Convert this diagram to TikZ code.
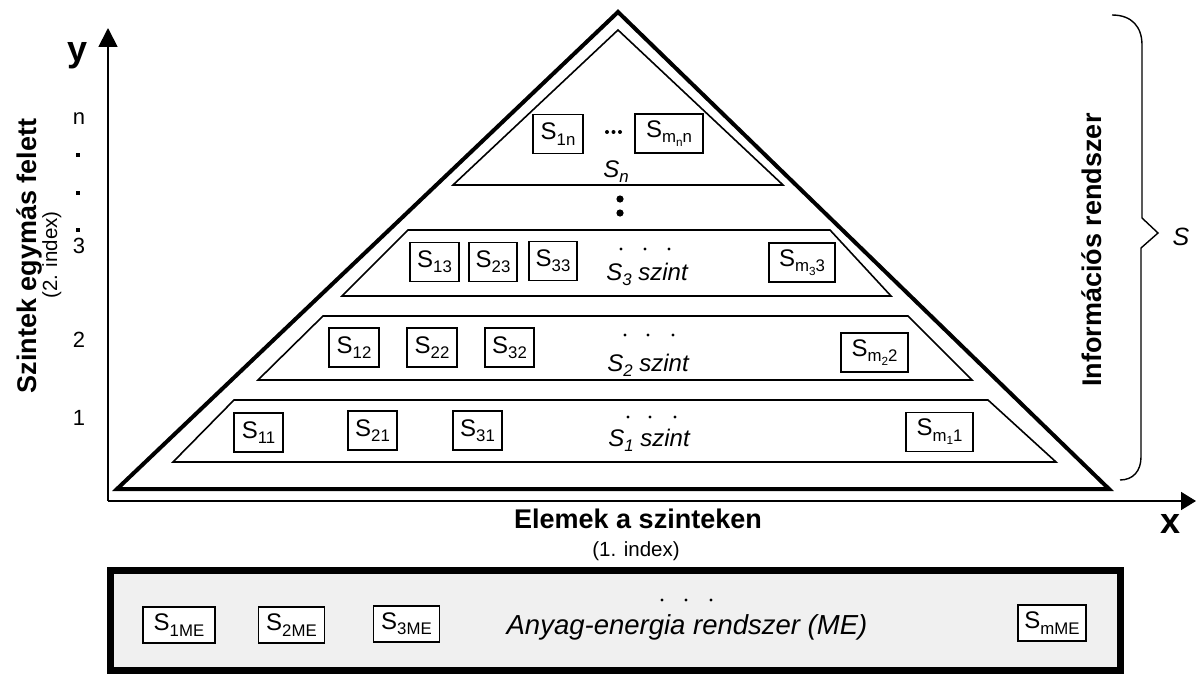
\documentclass[tikz,border=0pt]{standalone}
\usepackage{fontspec}
\usepackage{graphicx}
\setmainfont{Liberation Sans}
\usetikzlibrary{arrows.meta}
\definecolor{mefill}{HTML}{F0F0F0}
% lowered, scaled index for the element names
\newcommand{\idx}[1]{\raisebox{-0.22em}{\scalebox{0.7}{#1}}}
\begin{document}
\begin{tikzpicture}[x=1pt,y=-1pt,
  boxfont/.style={font=\fontsize{24}{27}\selectfont},
  sbox/.style={draw, line width=1.6pt, fill=white, inner sep=0pt, boxfont, minimum height=39pt},
  levelshape/.style={draw, line width=1.6pt, line join=miter},
  axisline/.style={line width=1.8pt},
  numlbl/.style={font=\fontsize{22}{25}\selectfont, inner sep=0pt},
  biglbl/.style={font=\bfseries\fontsize{27}{30}\selectfont, inner sep=0pt},
  smalllbl/.style={font=\fontsize{20.5}{23}\selectfont, inner sep=0pt},
  levellbl/.style={font=\itshape\fontsize{24}{27}\selectfont, inner sep=0pt, anchor=base},
  axislbl/.style={font=\bfseries\fontsize{36}{40}\selectfont, inner sep=0pt, anchor=base},
  dot/.style={fill=black, draw=none}
]
\useasboundingbox (0,0) rectangle (1196,674);

% axes
\coordinate (origin) at (108,501);
\coordinate (ytip) at (108,28);
\coordinate (xtip) at (1196,501);
\draw[axisline, -{Triangle[length=19pt,width=19pt]}] (origin) -- (ytip);
\draw[axisline, -{Triangle[length=15pt,width=18pt]}] (origin) -- (xtip);
\node[axislbl] (ylab) at (78,62) {y};
\node[axislbl] (xlab) at (1170,533) {x};

% level numbers on the vertical axis
\node[numlbl] (yn) at (79,118.5) {n};
\node[numlbl] (y3) at (79,246) {3};
\node[numlbl] (y2) at (79,339.5) {2};
\node[numlbl] (y1) at (79,417.5) {1};
\foreach \yy in {155,193,230} \fill[dot] (76,\yy-2) rectangle (80,\yy+2);

% axis titles
\node[biglbl, rotate=90, anchor=base] (ytitle) at (36,256) {Szintek egymás felett};
\node[smalllbl, rotate=90, anchor=base] (yidx) at (57,255) {(2. index)};
\node[biglbl, anchor=base] (xtitle) at (638,528) {Elemek a szinteken};
\node[smalllbl, anchor=base] (xidx) at (636,556) {(1. index)};

% outer pyramid
\draw[line width=4pt, line join=miter] (618,12) -- (1109,489) -- (117,489) -- cycle;

% top level
\draw[levelshape] (618,30) -- (783,185) -- (453,185) -- cycle;
\node[sbox, minimum width=50pt] (s1n) at (558,134) {S\idx{1n}};
\node[sbox, minimum width=68pt] (smn) at (669,133.5) {S\idx{m\idx{n}n}};
\foreach \xx in {607,613.5,620} \fill[dot] (\xx,132) circle (2);
\node[levellbl] (lsn) at (616,177) {S\idx{n}};

% vertical ellipsis
\fill[dot] (620,199) circle (3.6);
\fill[dot] (620,213) circle (3.6);

% level 3
\draw[levelshape] (408,230) -- (830,230) -- (891,296) -- (342,296) -- cycle;
\node[sbox, minimum width=49pt] (s13) at (434.5,262) {S\idx{13}};
\node[sbox, minimum width=48pt] (s23) at (493,262) {S\idx{23}};
\node[sbox, minimum width=48pt] (s33) at (553,261) {S\idx{33}};
\node[sbox, minimum width=66pt] (sm3) at (802,262.5) {S\idx{m\idx{3}3}};
\foreach \xx in {621,645,669} \fill[dot] (\xx,249) circle (1.7);
\node[levellbl] (l3) at (647,280) {S\idx{3} szint};

% level 2
\draw[levelshape] (323,316) -- (908,316) -- (972,380) -- (258,380) -- cycle;
\node[sbox, minimum width=50pt] (s12) at (354,347.5) {S\idx{12}};
\node[sbox, minimum width=50pt] (s22) at (432,347.5) {S\idx{22}};
\node[sbox, minimum width=49pt] (s32) at (509.5,347.5) {S\idx{32}};
\node[sbox, minimum width=67pt] (sm2) at (874.5,352.5) {S\idx{m\idx{2}2}};
\foreach \xx in {625,648,673} \fill[dot] (\xx,335) circle (1.7);
\node[levellbl] (l2) at (648,371) {S\idx{2} szint};

% level 1
\draw[levelshape] (234,400) -- (988,400) -- (1056,462) -- (173,462) -- cycle;
\node[sbox, minimum width=49pt] (s11) at (258.5,432.5) {S\idx{11}};
\node[sbox, minimum width=49pt] (s21) at (372.5,430.5) {S\idx{21}};
\node[sbox, minimum width=49pt] (s31) at (477.5,430.5) {S\idx{31}};
\node[sbox, minimum width=67pt] (sm1) at (939.5,432) {S\idx{m\idx{1}1}};
\foreach \xx in {628,650,675} \fill[dot] (\xx,417) circle (1.7);
\node[levellbl] (l1) at (649,446) {S\idx{1} szint};

% brace for the information system
\draw[line width=1.4pt] (1112,15) .. controls (1132,15) and (1142,27) .. (1142,45)
  -- (1142,218) -- (1158,233) -- (1141,248) -- (1141,457)
  .. controls (1141,471) and (1133,480) .. (1120,480);
\node[font=\itshape\fontsize{25}{28}\selectfont, inner sep=0pt] (sbrace) at (1181,237) {S};
\node[biglbl, rotate=90, anchor=base] (infolab) at (1101,250) {Információs rendszer};

% material-energy system
\draw[line width=7pt, fill=mefill] (110.5,570.5) rectangle (1120.5,670.5);
\node[sbox, minimum width=72pt, minimum height=36pt] (s1me) at (179,625) {S\idx{1ME}};
\node[sbox, minimum width=66pt, minimum height=36pt] (s2me) at (291.5,625) {S\idx{2ME}};
\node[sbox, minimum width=66pt, minimum height=36pt] (s3me) at (406.5,624) {S\idx{3ME}};
\node[sbox, minimum width=68pt, minimum height=36pt] (smme) at (1052,623) {S\idx{mME}};
\foreach \xx in {662,686,711} \fill[dot] (\xx,600) circle (1.7);
\node[font=\itshape\fontsize{27.5}{30}\selectfont, inner sep=0pt, anchor=base] (melab) at (687,634) {Anyag-energia rendszer (ME)};
\end{tikzpicture}
\end{document}
